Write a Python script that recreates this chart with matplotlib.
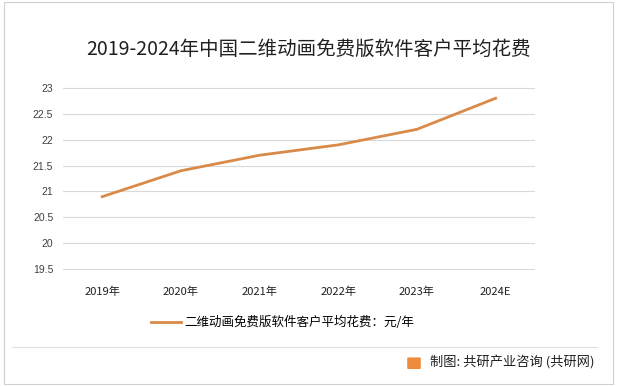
import matplotlib.pyplot as plt
from matplotlib.patches import Rectangle, FancyBboxPatch
from matplotlib.lines import Line2D

plt.rcParams['font.family'] = ['Noto Sans CJK SC', 'DejaVu Sans']

# 数据
years = ['2019年', '2020年', '2021年', '2022年', '2023年', '2024E']
spend = [20.9, 21.4, 21.7, 21.9, 22.2, 22.8]
yticks = [19.5, 20, 20.5, 21, 21.5, 22, 22.5, 23]
line_color = '#D98A48'

fig = plt.figure(figsize=(6.17, 3.86), dpi=100)
ax = fig.add_axes([0.102, 0.300, 0.765, 0.475])

x = list(range(len(years)))
ax.plot(x, spend, color=line_color, linewidth=2, label='二维动画免费版软件客户平均花费：元/年')

ax.set_xlim(-0.5, len(years) - 0.5)
ax.set_ylim(19.48, 23.02)
ax.set_yticks(yticks)
ax.set_yticklabels([f'{t:g}' for t in yticks], fontsize=7.5, color='#404040',
                   family=['Liberation Sans', 'DejaVu Sans'])
ax.set_xticks(x)
ax.set_xticklabels(years, fontsize=8, color='#202020')
ax.tick_params(axis='both', length=0)
ax.tick_params(axis='x', pad=12)
ax.tick_params(axis='y', pad=7)
ax.grid(axis='y', color='#D9D9D9', linewidth=0.8)
ax.set_axisbelow(True)
for s in ax.spines.values():
    s.set_visible(False)

fig.text(0.500, 0.872, '2019-2024年中国二维动画免费版软件客户平均花费', ha='center', va='center',
         fontsize=14, color='#202020')

leg = fig.legend(loc='center', bbox_to_anchor=(0.458, 0.165), frameon=False,
                 fontsize=9, handlelength=2.4, handletextpad=0.3)

# 外框与分隔线
fig.add_artist(Rectangle((0.006, 0.005), 0.988, 0.99, transform=fig.transFigure,
                         fill=False, edgecolor='#D0D0D0', linewidth=0.8))
fig.add_artist(Line2D([0.02, 0.968], [0.101, 0.101], transform=fig.transFigure,
                      color='#E0E0E0', linewidth=0.8))

# 来源
fig.add_artist(FancyBboxPatch((0.662, 0.046), 0.018, 0.026, boxstyle='round,pad=0.002',
                              transform=fig.transFigure, facecolor='#EE8A3C', edgecolor='none'))
fig.text(0.697, 0.060, '制图: 共研产业咨询 (共研网)', ha='left', va='center',
         fontsize=9.5, color='#202020')

fig.savefig('out.png', dpi=100)
